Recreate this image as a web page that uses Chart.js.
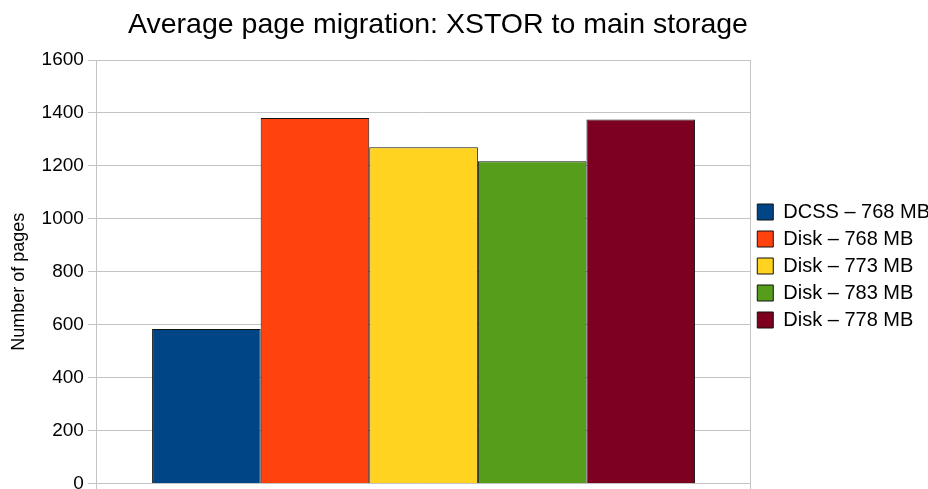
<!DOCTYPE html>
<html>
<head>
<meta charset="utf-8">
<script src="https://cdn.jsdelivr.net/npm/chart.js@4.4.1/dist/chart.umd.min.js"></script>
<style>
  html, body { margin: 0; padding: 0; background: #fff; overflow: hidden; }
  #wrap { width: 928px; height: 489px; overflow: hidden; position: relative; }
  #chart { display: block; }
</style>
</head>
<body>
<div id="wrap"><canvas id="chart" width="940" height="499" style="width:940px;height:499px"></canvas></div>
<script>
const chartTitle = 'Average page migration: XSTOR to main storage';
const yAxisTitle = 'Number of pages';
const categories = [''];
const seriesNames = ['DCSS – 768 MB', 'Disk – 768 MB', 'Disk – 773 MB', 'Disk – 783 MB', 'Disk – 778 MB'];
const seriesValues = [[584], [1381], [1270], [1218], [1375]];
const seriesColors = ['#004586', '#ff420e', '#ffd320', '#579d1c', '#7e0021'];
const yMin = 0, yMax = 1600, yStep = 200;

const FONT = "'Liberation Sans', Arial, sans-serif";
const gridColor = '#c4c4c4';

// title is centred a bit left of the canvas middle, like the original
const titlePlugin = {
  id: 'sideTitle',
  afterDraw(chart) {
    const ctx = chart.ctx;
    ctx.save();
    ctx.font = '28.5px ' + FONT;
    ctx.fillStyle = '#000';
    ctx.textAlign = 'center';
    ctx.textBaseline = 'alphabetic';
    ctx.fillText(chartTitle, 438, 33);
    ctx.restore();
  }
};

new Chart(document.getElementById('chart').getContext('2d'), {
  type: 'bar',
  data: {
    labels: categories,
    datasets: seriesNames.map((name, i) => ({
      label: name,
      data: seriesValues[i],
      backgroundColor: seriesColors[i],
      borderColor: '#111',
      borderWidth: 1,
      categoryPercentage: 0.831,
      barPercentage: 1,
    })),
  },
  options: {
    responsive: false,
    animation: false,
    layout: { padding: { top: 60, left: 8, right: 0, bottom: 0 } },
    plugins: {
      title: { display: false },
      tooltip: { enabled: false },
      legend: {
        position: 'right',
        align: 'start',
        // empty legend title only pushes the items down to where the original has them
        title: { display: true, text: '', padding: { top: 125, bottom: 0 }, font: { size: 10, lineHeight: 1 } },
        labels: {
          boxWidth: 16,
          boxHeight: 16,
          padding: 7,
          color: '#000',
          font: { family: FONT, size: 20 },
        },
      },
    },
    scales: {
      x: {
        grid: { color: gridColor, offset: true, drawTicks: true, tickLength: 9 },
        border: { color: gridColor },
        ticks: { display: false },
      },
      y: {
        min: yMin,
        max: yMax,
        ticks: {
          stepSize: yStep,
          color: '#000',
          padding: 4,
          font: { family: FONT, size: 19 },
          callback: (v) => String(v),
        },
        grid: { color: gridColor, tickLength: 9 },
        border: { color: gridColor },
        title: {
          display: true,
          // trailing blanks nudge the rotated label a little lower, as in the original
          text: yAxisTitle + '\u00a0\u00a0\u00a0\u00a0',
          color: '#000',
          padding: { top: 0, bottom: 8 },
          font: { family: FONT, size: 18 },
        },
      },
    },
  },
  plugins: [titlePlugin],
});
</script>
</body>
</html>
